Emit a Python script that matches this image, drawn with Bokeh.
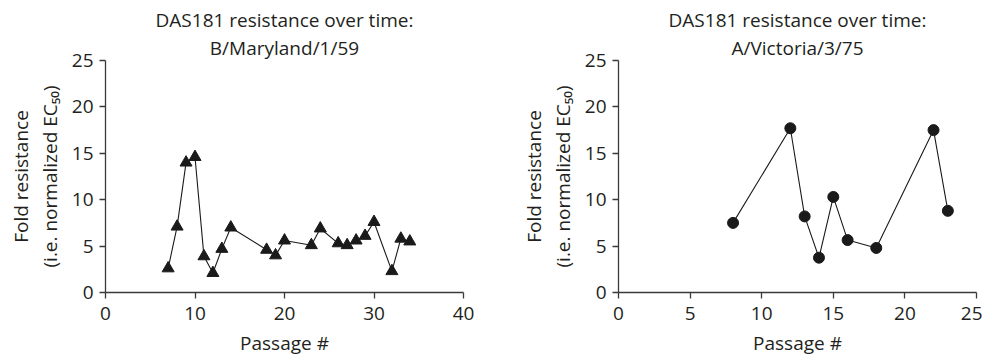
from bokeh.plotting import figure
from bokeh.layouts import row
from bokeh.models import Range1d, FixedTicker, Title
from bokeh.embed import file_html
from bokeh.resources import INLINE

# Data
maryland_passage = [7, 8, 9, 10, 11, 12, 13, 14, 18, 19, 20, 23, 24, 26, 27, 28, 29, 30, 32, 33, 34]
maryland_fold = [2.6, 7.1, 14.0, 14.6, 3.9, 2.1, 4.7, 7.0, 4.6, 4.0, 5.6, 5.1, 6.9, 5.3, 5.1, 5.6, 6.1, 7.6, 2.3, 5.8, 5.5]

victoria_passage = [8, 12, 13, 14, 15, 16, 18, 22, 23]
victoria_fold = [7.5, 17.7, 8.2, 3.75, 10.3, 5.65, 4.8, 17.5, 8.8]

left_xticks = [0, 10, 20, 30, 40]
right_xticks = [0, 5, 10, 15, 20, 25]
yticks = [0, 5, 10, 15, 20, 25]

FONT = "Open Sans"
FS = "19px"
TXT = "#231f20"
AX = "#3a3a3a"
INK = "#1a1a1a"


def make_panel(title_lines, xs, ys, xmax, xticks, marker, msize, width, bl, br):
    p = figure(width=width, height=358, output_backend="svg", toolbar_location=None,
               x_range=Range1d(0, xmax), y_range=Range1d(0, 25),
               min_border_left=bl, min_border_right=br, min_border_top=60, min_border_bottom=65)
    p.title = None
    # add lower line first so it sits closest to the frame
    for txt in reversed(title_lines):
        p.add_layout(Title(text=txt, align="center", text_font=FONT, text_font_size=FS,
                           text_font_style="normal", text_color=TXT, standoff=0, offset=0),
                     "above")
    p.outline_line_color = None
    p.grid.visible = False
    p.background_fill_color = "white"
    p.border_fill_color = "white"

    p.xaxis.ticker = FixedTicker(ticks=xticks)
    p.yaxis.ticker = FixedTicker(ticks=yticks)
    for ax in (p.xaxis, p.yaxis):
        ax.axis_line_color = AX
        ax.axis_line_width = 1.3
        ax.major_tick_line_color = AX
        ax.major_tick_line_width = 1.3
        ax.major_tick_out = 6
        ax.major_tick_in = 0
        ax.minor_tick_line_color = None
        ax.major_label_text_font = FONT
        ax.major_label_text_font_size = FS
        ax.major_label_text_color = TXT
        ax.axis_label_text_font = FONT
        ax.axis_label_text_font_size = FS
        ax.axis_label_text_font_style = "normal"
        ax.axis_label_text_color = TXT
    p.xaxis.major_label_standoff = 8
    p.yaxis.major_label_standoff = 6
    p.xaxis.axis_label = "Passage #"
    p.xaxis.axis_label_standoff = 7
    p.yaxis.axis_label = "Fold resistance\n(i.e. normalized EC\u2085\u2080)"
    p.yaxis.axis_label_standoff = 6
    p.yaxis.axis_label_text_line_height = 1.1

    p.line(xs, ys, line_color=INK, line_width=1.1)
    p.scatter(xs, ys, marker=marker, size=msize, fill_color=INK, line_color=INK)
    return p


left = make_panel(["DAS181 resistance over time:", "B/Maryland/1/59"],
                  maryland_passage, maryland_fold, 40, left_xticks, "triangle", 12, 495, 105, 32)
right = make_panel(["DAS181 resistance over time:", "A/Victoria/3/75"],
                   victoria_passage, victoria_fold, 25, right_xticks, "circle", 11, 487, 123, 6)

layout = row(left, right, spacing=0)
open("out.html", "w").write(file_html(layout, INLINE))
